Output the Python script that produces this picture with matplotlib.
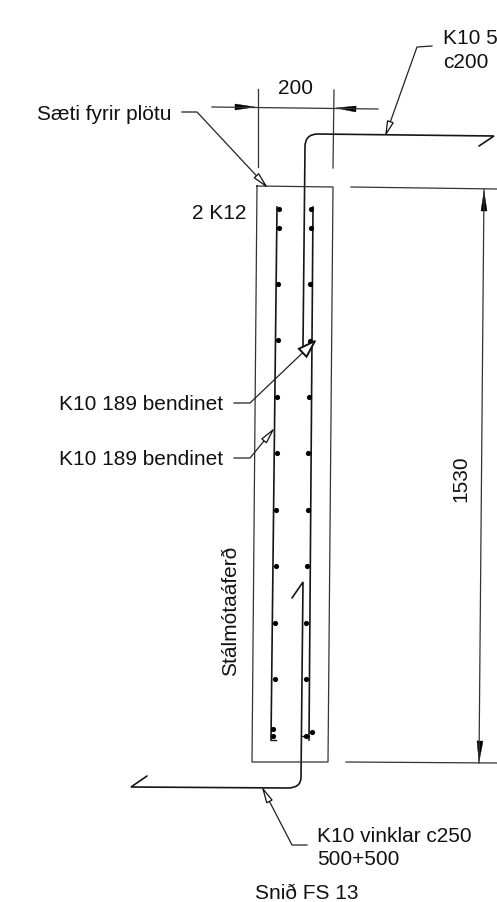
import numpy as np
import matplotlib
matplotlib.use("Agg")
import matplotlib.pyplot as plt
from matplotlib.patches import Polygon, PathPatch
from matplotlib.path import Path

plt.rcParams['font.family'] = ['Liberation Sans', 'DejaVu Sans']

W, H = 497, 903
# --- geometry (pixel coordinates) ---
section_x = [257, 333, 328, 252, 257]
section_y = [187, 188, 763, 763, 187]

left_bar_x = [277, 271]
left_bar_y = [208, 741]
right_bar_x = [313, 309]
right_bar_y = [208, 741]

left_dot_x = [279, 279, 278, 278, 277, 277, 276, 276, 275, 275, 273, 273]
left_dot_y = [210, 229, 285, 341, 398, 454, 511, 567, 624, 680, 730, 737]
right_dot_x = [311, 311, 310, 310, 309, 308, 308, 307, 306, 306, 312, 306]
right_dot_y = [210, 229, 285, 342, 398, 454, 511, 567, 624, 680, 733, 737]

ext_lines = [([258, 258], [90, 168]), ([334, 333], [91, 169]),
             ([351, 497], [188, 190]), ([346, 497], [763, 764]),
             ([212, 378], [108, 110]), ([484, 479], [190, 764])]

leaders = [([432, 417, 386], [47, 48, 135]),
           ([182, 197, 266], [113, 113, 187]),
           ([234, 250, 315], [404, 404, 342]),
           ([234, 250, 273], [459, 459, 431]),
           ([307, 292, 263], [846, 846, 790])]
leader_head_len = [13, 14, 17, 14, 14]
leader_head_wid = [3.0, 3.0, 5.5, 3.0, 3.0]
leader_head_lw = [0.9, 0.9, 1.4, 0.9, 0.9]

labels = ["K10 5", "c200", "200", "Sæti fyrir plötu", "2 K12",
          "K10 189 bendinet", "K10 189 bendinet", "K10 vinklar c250",
          "500+500", "Snið FS 13"]
label_x = [443, 443, 278, 37, 192, 59, 59, 317, 317, 255]
label_y = [38, 62, 89, 114, 214, 405, 460, 837, 860, 894]
FS = 15

fig = plt.figure(figsize=(W / 100, H / 100), dpi=100)
ax = fig.add_axes([0, 0, 1, 1])
ax.set_xlim(0, W)
ax.set_ylim(H, 0)
ax.axis("off")

ink = "#161616"
ax.plot(section_x, section_y, color="#333333", lw=0.9)
ax.plot(left_bar_x, left_bar_y, color=ink, lw=1.2)
ax.plot(right_bar_x, right_bar_y, color=ink, lw=1.2)
ax.plot([271, 276], [741, 741], color=ink, lw=1.0)
ax.plot([302, 309], [737, 737], color=ink, lw=1.0)
ax.scatter(left_dot_x, left_dot_y, s=14, color="black", zorder=3, linewidths=0)
ax.scatter(right_dot_x, right_dot_y, s=14, color="black", zorder=3, linewidths=0)

for xs, ys in ext_lines:
    ax.plot(xs, ys, color="#333333", lw=0.9)

# main bars with rounded bends
upper = Path([(479, 147), (494, 137), (318, 135), (305, 135), (305, 148), (303, 347)],
             [Path.MOVETO, Path.LINETO, Path.LINETO, Path.CURVE3, Path.CURVE3, Path.LINETO])
lower = Path([(292, 599), (303, 583), (301, 778), (301, 789), (288, 789), (131, 788), (147, 777)],
             [Path.MOVETO, Path.LINETO, Path.LINETO, Path.CURVE3, Path.CURVE3, Path.LINETO, Path.LINETO])
for p in (upper, lower):
    ax.add_patch(PathPatch(p, fill=False, ec=ink, lw=1.2, capstyle="round", joinstyle="miter"))

# filled dimension arrows
for tip, tail in [((255, 108), (235, 108)), ((336, 109), (356, 110)),
                  ((484, 192), (484, 212)), ((479, 763), (480, 742))]:
    d = np.array(tip, float) - np.array(tail, float)
    n = np.array([-d[1], d[0]]) / np.hypot(*d)
    ax.add_patch(Polygon([tip, np.array(tail) + 3 * n, np.array(tail) - 3 * n],
                         closed=True, fc="black", ec="black", lw=0.3))

# leaders with open arrowheads
for (xs, ys), hl, hw, hlw in zip(leaders, leader_head_len, leader_head_wid, leader_head_lw):
    ax.plot(xs, ys, color="#222222", lw=0.9)
    tip = np.array([xs[-1], ys[-1]], float)
    back = np.array([xs[-2], ys[-2]], float)
    u = (back - tip) / np.hypot(*(back - tip))
    n = np.array([-u[1], u[0]])
    ax.add_patch(Polygon([tip, tip + hl * u + hw * n, tip + hl * u - hw * n],
                         closed=True, fc="white", ec="#111111", lw=hlw, zorder=4))

for s, x, y in zip(labels, label_x, label_y):
    ax.text(x, y, s, fontsize=FS, color="#111111", ha="left", va="center")
ax.text(461, 479, "1530", fontsize=FS, color="#111111", rotation=90, ha="center", va="center")
ax.text(231, 611, "Stálmótaáferð", fontsize=FS, color="#111111", rotation=90, ha="center", va="center")

fig.savefig("out.png", dpi=100)
